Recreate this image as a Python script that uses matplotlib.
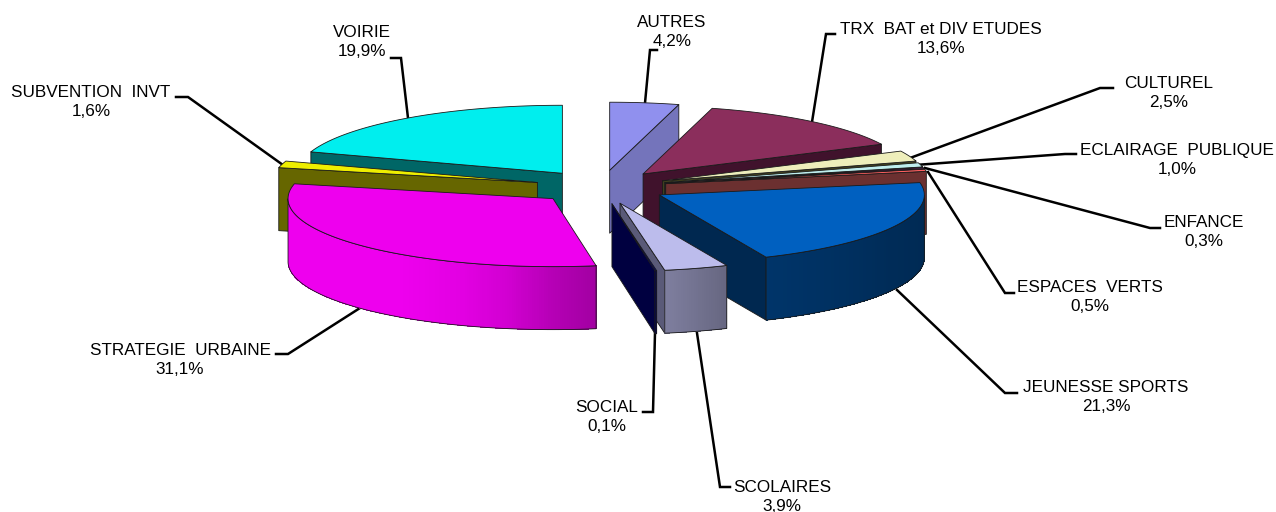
import numpy as np
import matplotlib
matplotlib.use('Agg')
import matplotlib.pyplot as plt
import matplotlib.colors as mcolors

# slices, clockwise from 12 o'clock
names  = ['AUTRES', 'TRX  BAT et DIV ETUDES', 'CULTUREL', 'ECLAIRAGE  PUBLIQUE', 'ENFANCE',
          'ESPACES  VERTS', 'JEUNESSE SPORTS', 'SCOLAIRES', 'SOCIAL',
          'STRATEGIE  URBAINE', 'SUBVENTION  INVT', 'VOIRIE']
values = [4.2, 13.6, 2.5, 1.0, 0.3, 0.5, 21.3, 3.9, 0.1, 31.1, 1.6, 19.9]

top_c  = ['#9090ee', '#8b2e5c', '#eeeebb', '#bfeeee', '#602060', '#ff6060',
          '#0060c0', '#bcbcec', '#000080', '#ee00ee', '#eeee00', '#00eeee']
cut_c  = ['#7474bb', '#40122c', '#40401f', '#2c4040', '#301030', '#6b3030',
          '#002850', '#5a5a78', '#000040', '#800080', '#666600', '#006666']

# paint order, back to front
order = [11, 0, 1, 2, 3, 4, 5, 10, 9, 6, 7, 8]

# label layout in pixels: text centre, then leader line points
label_xy = [(672, 32), (941, 39), (1169, 93), (1177, 160), (1204, 232), (1090, 297),
            (1106, 397), (782, 497), (607, 417), (180, 360), (91, 102), (362, 42)]
leaders = [[(645, 103), (650, 50), (657, 50)],
           [(812, 122), (826, 34), (835, 34)],
           [(910, 158), (1100, 88), (1113, 88)],
           [(915, 165), (1065, 154), (1076, 154)],
           [(925, 168), (1150, 228), (1160, 228)],
           [(928, 172), (1005, 293), (1014, 293)],
           [(897, 290), (1005, 393), (1017, 393)],
           [(697, 333), (720, 487), (730, 487)],
           [(655, 333), (653, 412), (643, 412)],
           [(360, 308), (288, 354), (276, 354)],
           [(283, 165), (188, 97), (176, 97)],
           [(408, 118), (401, 58), (391, 58)]]

CX, CY = 601, 187
RX, RY = 265, 68
DEPTH  = 63
EXPL   = 66
EDGE   = '#1a1a1a'

def shade(a):
    # lighting on the rim, by angle clockwise from the top
    return np.interp(a, [80, 120, 157, 171, 180, 190, 200, 215], [.42, .46, .55, .68, .76, .88, .95, 1.0])

def pt(ax0, ay0, a):
    t = np.radians(a)
    return ax0 + RX * np.sin(t), ay0 - RY * np.cos(t)

plt.rcParams['font.family'] = ['Liberation Sans', 'DejaVu Sans']
fig = plt.figure(figsize=(12.76, 5.12), dpi=100)
ax = fig.add_axes([0, 0, 1, 1])
ax.set_xlim(0, 1276)
ax.set_ylim(512, 0)
ax.axis('off')

ends   = np.cumsum(values) * 3.6
starts = ends - np.array(values) * 3.6

for i in order:
    a0, a1 = starts[i], ends[i]
    mid = np.radians((a0 + a1) / 2)
    ox = CX + EXPL * np.sin(mid)
    oy = CY - EXPL * RY / RX * np.cos(mid)

    # cut faces, only those turned to the viewer
    for a, seen in ((a0, np.sin(np.radians(a0)) < -1e-6), (a1, np.sin(np.radians(a1)) > 1e-6)):
        if seen:
            px, py = pt(ox, oy, a)
            ax.fill([ox, px, px, ox], [oy, py, py + DEPTH, oy + DEPTH],
                    fc=cut_c[i], ec=EDGE, lw=0.6, joinstyle='round')

    # rim, front half only
    lo, hi = max(a0, 90), min(a1, 270)
    if hi > lo:
        aa = np.linspace(lo, hi, int(hi - lo) * 2 + 2)
        xs, ys = pt(ox, oy, aa)
        base = np.array(mcolors.to_rgb(top_c[i]))
        for j in range(len(aa) - 1):
            c = base * shade((aa[j] + aa[j + 1]) / 2)
            ax.fill([xs[j], xs[j + 1], xs[j + 1], xs[j]],
                    [ys[j], ys[j + 1], ys[j + 1] + DEPTH, ys[j] + DEPTH],
                    fc=c, ec='none', antialiased=False)
        ax.fill(np.r_[xs, xs[::-1]], np.r_[ys, ys[::-1] + DEPTH], fc='none', ec=EDGE, lw=0.6)

    # top face
    aa = np.linspace(a0, a1, max(int(a1 - a0) * 2, 2) + 1)
    xs, ys = pt(ox, oy, aa)
    ax.fill(np.r_[ox, xs], np.r_[oy, ys], fc=top_c[i], ec=EDGE, lw=0.6, joinstyle='round')

for i, name in enumerate(names):
    lx, ly = zip(*leaders[i])
    ax.plot(lx, ly, color='black', lw=1.8, solid_joinstyle='miter', zorder=0)
    pct = f'{values[i]:.1f}%'.replace('.', ',')
    ax.text(*label_xy[i], f'{name}\n{pct}', ha='center', va='center', fontsize=12.3,
            color='black', linespacing=1.32)

fig.savefig('out.png', dpi=100, facecolor='white')
